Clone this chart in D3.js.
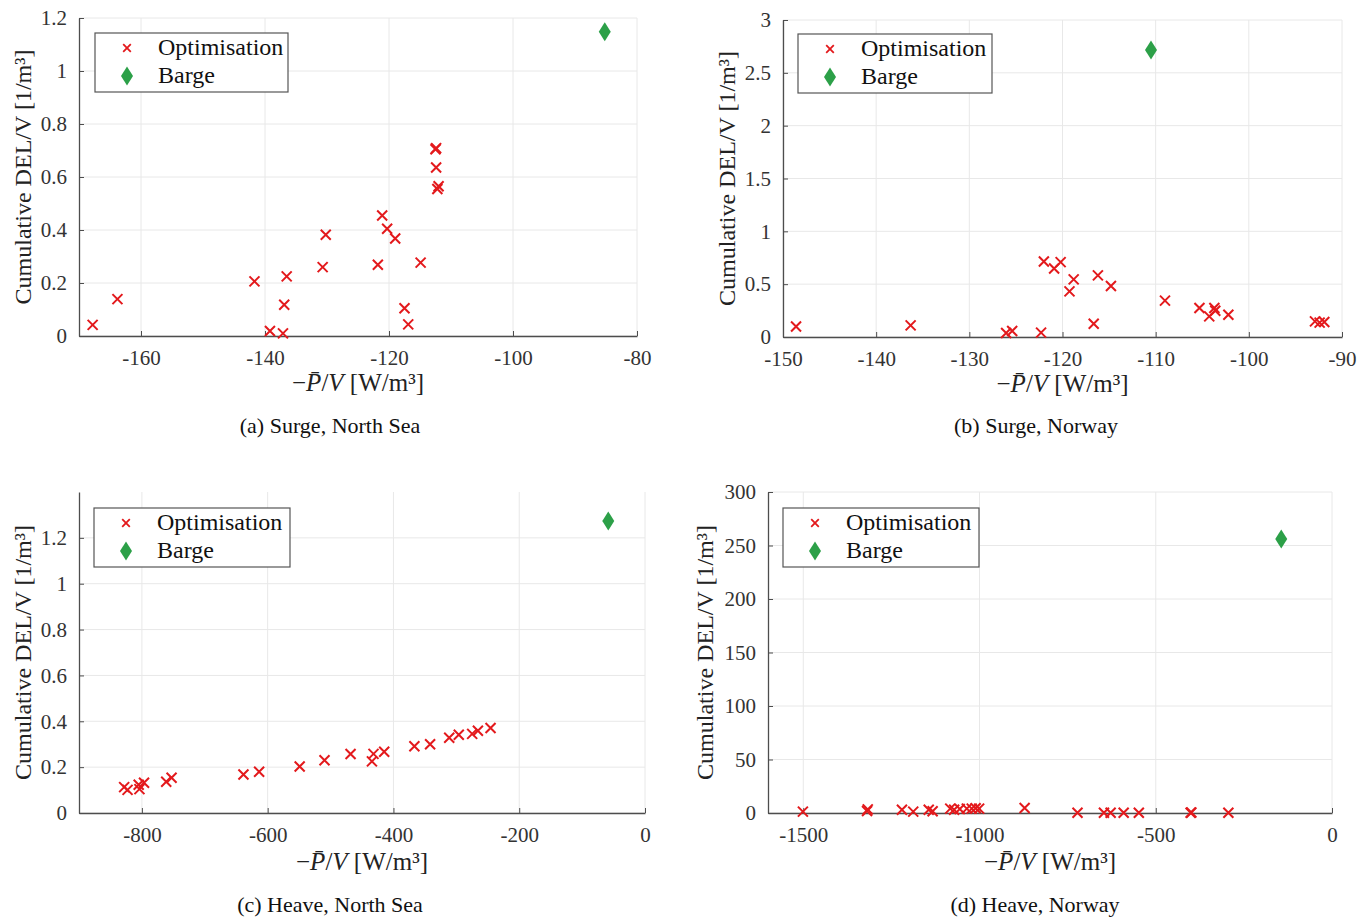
<!DOCTYPE html>
<html>
<head>
<meta charset="utf-8">
<script src="https://cdnjs.cloudflare.com/ajax/libs/d3/7.8.5/d3.min.js"></script>
<style>
  body { margin: 0; background: #fff; }
  svg { display: block; }
  text { font-family: "Liberation Serif", "DejaVu Serif", serif; }
</style>
</head>
<body>
<svg id="fig" width="1370" height="922"></svg>
<script>
// (a) Surge, North Sea
const surgeNsPower = [-167.8, -163.8, -141.7, -139.2, -137.1, -136.9, -136.5, -130.7, -130.2, -121.8, -121.1,
  -120.3, -119.0, -114.9, -117.5, -116.9, -112.5, -112.4, -112.4, -112.0, -112.2];
const surgeNsDel = [0.042, 0.139, 0.206, 0.019, 0.010, 0.118, 0.225, 0.260, 0.382, 0.269, 0.455,
  0.405, 0.368, 0.277, 0.105, 0.044, 0.705, 0.709, 0.636, 0.565, 0.555];
const surgeNsBarge = [-85.2, 1.148];

// (b) Surge, Norway
const surgeNoPower = [-148.6, -136.3, -126.05, -125.4, -122.3, -122.0, -120.9, -120.2, -119.25, -118.8, -116.65,
  -116.2, -114.8, -109.0, -105.3, -104.25, -103.7, -103.6, -102.2, -92.9, -92.4, -91.9];
const surgeNoDel = [0.10, 0.11, 0.038, 0.057, 0.041, 0.715, 0.649, 0.709, 0.432, 0.545, 0.126,
  0.583, 0.482, 0.344, 0.274, 0.195, 0.274, 0.249, 0.211, 0.148, 0.136, 0.142];
const surgeNoBarge = [-110.5, 2.717];

// (c) Heave, North Sea
const heaveNsPower = [-828.2, -822.8, -805.1, -803.9, -796.6, -761.3, -752.8, -638.5, -613.6, -549.1, -509.6,
  -468.2, -434.2, -431.7, -414.7, -366.7, -341.7, -311.3, -296.1, -274.8, -265.7, -245.6];
const heaveNsDel = [0.113, 0.101, 0.123, 0.104, 0.132, 0.136, 0.154, 0.168, 0.180, 0.203, 0.230,
  0.257, 0.225, 0.258, 0.267, 0.291, 0.300, 0.328, 0.341, 0.345, 0.359, 0.371];
const heaveNsBarge = [-58.4, 1.274];

// (d) Heave, Norway
const heaveNoPower = [-1501, -1319, -1317, -1220, -1188, -1144, -1133, -1083, -1072, -1056, -1036, -1022,
  -1011, -1001, -872, -722, -647, -628, -591, -548, -401, -399, -294];
const heaveNoDel = [1.25, 1.9, 3.4, 3.1, 1.25, 3.1, 1.6, 4.1, 3.1, 3.75, 4.1, 4.1,
  4.4, 4.1, 4.7, 0.2, 0.3, 0.2, 0.3, 0.2, 0.2, 0.4, 0.2];
const heaveNoBarge = [-144, 256];

const legendNames = ["Optimisation", "Barge"];

const panels = [
  { px: surgeNsPower, py: surgeNsDel, barge: surgeNsBarge, caption: "(a) Surge, North Sea",
    xDom: [-170, -80], xTicks: [-160, -140, -120, -100, -80],
    yDom: [0, 1.2], yTicks: [0, 0.2, 0.4, 0.6, 0.8, 1, 1.2],
    box: { l: 79, r: 637, t: 18, b: 336 }, ylabX: 24, capX: 330, capY: 426, xlabY: 383,
    leg: { x: 95, y: 33, w: 193, h: 59 } },
  { px: surgeNoPower, py: surgeNoDel, barge: surgeNoBarge, caption: "(b) Surge, Norway",
    xDom: [-150, -90], xTicks: [-150, -140, -130, -120, -110, -100, -90],
    yDom: [0, 3], yTicks: [0, 0.5, 1, 1.5, 2, 2.5, 3],
    box: { l: 783, r: 1342, t: 20, b: 337 }, ylabX: 728, capX: 1036, capY: 426, xlabY: 384,
    leg: { x: 798, y: 34, w: 194, h: 59 } },
  { px: heaveNsPower, py: heaveNsDel, barge: heaveNsBarge, caption: "(c) Heave, North Sea",
    xDom: [-900, 0], xTicks: [-800, -600, -400, -200, 0],
    yDom: [0, 1.4], yTicks: [0, 0.2, 0.4, 0.6, 0.8, 1, 1.2],
    box: { l: 79, r: 645, t: 492, b: 813 }, ylabX: 24, capX: 330, capY: 905, xlabY: 862,
    leg: { x: 94, y: 508, w: 196, h: 59 } },
  { px: heaveNoPower, py: heaveNoDel, barge: heaveNoBarge, caption: "(d) Heave, Norway",
    xDom: [-1600, 0], xTicks: [-1500, -1000, -500, 0],
    yDom: [0, 300], yTicks: [0, 50, 100, 150, 200, 250, 300],
    box: { l: 768, r: 1332, t: 492, b: 813 }, ylabX: 706, capX: 1035, capY: 905, xlabY: 862,
    leg: { x: 783, y: 508, w: 196, h: 59 } }
];

const red = "#e3191c", green = "#2ca048", axisCol = "#4d4d4d", gridCol = "#e8e8e8";
const crossPath = s => `M${-s},${-s}L${s},${s}M${-s},${s}L${s},${-s}`;
const diamondPath = (w, h) => `M0,${-h}L${w},0L0,${h}L${-w},0Z`;

const svg = d3.select("#fig");

panels.forEach(p => {
  const g = svg.append("g");
  const x = d3.scaleLinear().domain(p.xDom).range([p.box.l, p.box.r]);
  const y = d3.scaleLinear().domain(p.yDom).range([p.box.b, p.box.t]);

  // grid
  g.append("g").selectAll("line").data(p.xTicks).join("line")
    .attr("x1", d => x(d)).attr("x2", d => x(d))
    .attr("y1", p.box.t).attr("y2", p.box.b)
    .attr("stroke", gridCol).attr("stroke-width", 1);
  g.append("g").selectAll("line").data(p.yTicks).join("line")
    .attr("x1", p.box.l).attr("x2", p.box.r)
    .attr("y1", d => y(d)).attr("y2", d => y(d))
    .attr("stroke", gridCol).attr("stroke-width", 1);

  // axes
  const xAxis = d3.axisBottom(x).tickValues(p.xTicks).tickSize(-5).tickSizeOuter(0).tickPadding(14)
    .tickFormat(d => String(d));
  const yAxis = d3.axisLeft(y).tickValues(p.yTicks).tickSize(-5).tickSizeOuter(0).tickPadding(12)
    .tickFormat(d => String(d));

  const gx = g.append("g").attr("transform", `translate(0,${p.box.b})`).call(xAxis);
  const gy = g.append("g").attr("transform", `translate(${p.box.l},0)`).call(yAxis);
  [gx, gy].forEach(a => {
    a.select(".domain").attr("stroke", axisCol).attr("stroke-width", 1.3);
    a.selectAll(".tick line").attr("stroke", axisCol);
    a.selectAll(".tick text").attr("fill", "#333").style("font-size", "21px")
      .style("font-family", "'Liberation Serif', serif");
  });

  // points
  g.append("g").selectAll("path").data(p.px.map((v, i) => [v, p.py[i]])).join("path")
    .attr("d", crossPath(5))
    .attr("transform", d => `translate(${x(d[0])},${y(d[1])})`)
    .attr("stroke", red).attr("stroke-width", 2).attr("fill", "none");

  g.append("path")
    .attr("d", diamondPath(6, 9.5))
    .attr("transform", `translate(${x(p.barge[0])},${y(p.barge[1])})`)
    .attr("fill", green);

  // legend
  const L = p.leg;
  const lg = g.append("g").attr("transform", `translate(${L.x},${L.y})`);
  lg.append("rect").attr("width", L.w).attr("height", L.h)
    .attr("fill", "#fff").attr("stroke", "#555").attr("stroke-width", 1.2);
  lg.append("path").attr("d", crossPath(3.8)).attr("transform", "translate(32,15)")
    .attr("stroke", red).attr("stroke-width", 1.8).attr("fill", "none");
  lg.append("path").attr("d", diamondPath(6, 9.5)).attr("transform", "translate(32,43)")
    .attr("fill", green);
  lg.selectAll("text.leg").data(legendNames).join("text").attr("class", "leg")
    .attr("x", 63).attr("y", (d, i) => 22 + i * 28)
    .style("font-size", "24px").attr("fill", "#111").text(d => d);

  // y label
  const cy = (p.box.t + p.box.b) / 2;
  g.append("text")
    .attr("transform", `translate(${p.ylabX + 7},${cy}) rotate(-90)`)
    .attr("text-anchor", "middle").style("font-size", "23px").attr("fill", "#222")
    .attr("textLength", 255).attr("lengthAdjust", "spacingAndGlyphs")
    .text("Cumulative DEL/V [1/m\u00B3]");

  // x label
  const xl = g.append("text")
    .attr("x", (p.box.l + p.box.r) / 2).attr("y", p.xlabY + 8)
    .attr("text-anchor", "middle").style("font-size", "25px").attr("fill", "#222");
  xl.append("tspan").text("\u2212");
  xl.append("tspan").style("font-style", "italic").text("P\u0304");
  xl.append("tspan").text("/");
  xl.append("tspan").style("font-style", "italic").text("V");
  xl.append("tspan").text(" [W/m\u00B3]");

  // caption
  g.append("text").attr("x", p.capX).attr("y", p.capY + 7)
    .attr("text-anchor", "middle").style("font-size", "22px").attr("fill", "#111")
    .text(p.caption);
});
</script>
</body>
</html>
